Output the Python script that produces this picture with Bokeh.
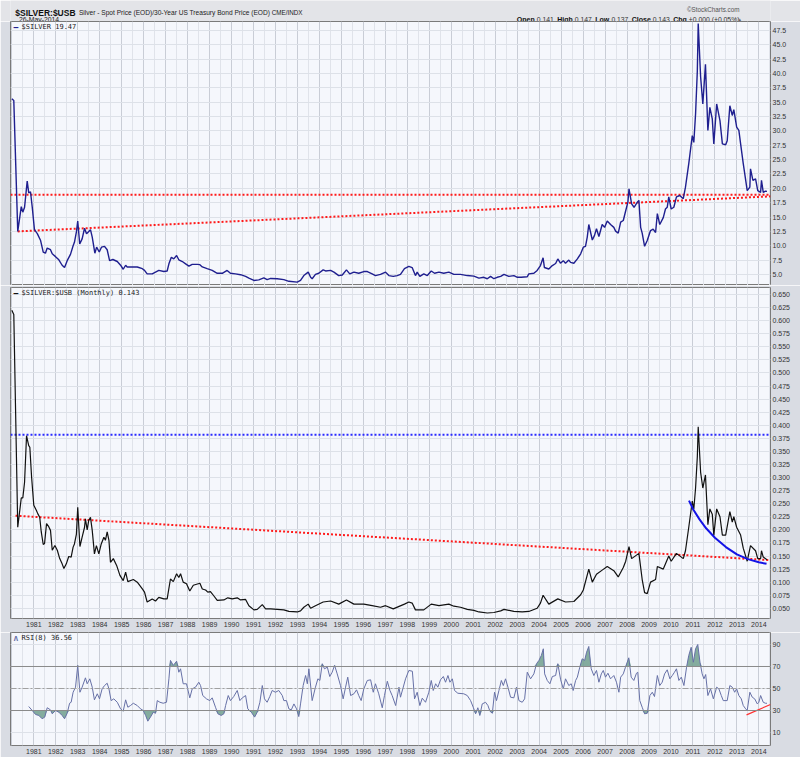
import numpy as np
from bokeh.plotting import figure
from bokeh.layouts import column
from bokeh.models import Range1d, FixedTicker, Label, Span, PrintfTickFormatter
from bokeh.core.properties import value
from bokeh.embed import file_html
from bokeh.resources import INLINE

# ---------------- data ----------------
years = list(range(1981, 2015))
grid_years = list(range(1980, 2015))
half_years = [y + 0.5 for y in range(1980, 2015)]

silver_t = [1980.00, 1980.09, 1980.27, 1980.43, 1980.50, 1980.58, 1980.70, 1980.77, 1980.85, 1980.93,
            1981.03, 1981.16, 1981.31, 1981.43, 1981.53, 1981.61, 1981.76, 1981.84, 1981.99, 1982.14,
            1982.29, 1982.40, 1982.52, 1982.67, 1982.79, 1982.85, 1982.94, 1983.00, 1983.09, 1983.20,
            1983.31, 1983.40, 1983.48, 1983.58, 1983.66, 1983.78, 1983.86, 1983.98, 1984.08, 1984.22,
            1984.34, 1984.45, 1984.60, 1984.80, 1984.95, 1985.07, 1985.18, 1985.25, 1985.48, 1985.71,
            1985.94, 1986.04, 1986.16, 1986.39, 1986.54, 1986.69, 1986.92, 1987.07, 1987.15, 1987.26,
            1987.37, 1987.50, 1987.60, 1987.76, 1987.91, 1988.06, 1988.21, 1988.44, 1988.56, 1988.67,
            1988.89, 1989.12, 1989.35, 1989.58, 1989.80, 1989.95, 1990.18, 1990.41, 1990.64, 1990.79,
            1991.02, 1991.24, 1991.47, 1991.62, 1991.78, 1992.08, 1992.38, 1992.61, 1992.99, 1993.14,
            1993.29, 1993.49, 1993.60, 1993.67, 1993.82, 1993.97, 1994.17, 1994.28, 1994.51, 1994.66,
            1994.88, 1995.04, 1995.23, 1995.38, 1995.57, 1995.79, 1996.02, 1996.18, 1996.40, 1996.55,
            1996.78, 1997.01, 1997.16, 1997.36, 1997.54, 1997.69, 1997.87, 1998.07, 1998.22, 1998.37,
            1998.45, 1998.57, 1998.75, 1998.91, 1999.09, 1999.24, 1999.44, 1999.66, 1999.89, 2000.12,
            2000.42, 2000.73, 2001.03, 2001.26, 2001.48, 2001.64, 2001.79, 2001.94, 2002.09, 2002.25,
            2002.40, 2002.62, 2002.85, 2003.01, 2003.18, 2003.46, 2003.53, 2003.76, 2003.91, 2004.06,
            2004.18, 2004.24, 2004.44, 2004.60, 2004.75, 2004.85, 2004.97, 2005.10, 2005.20, 2005.35,
            2005.43, 2005.58, 2005.74, 2005.89, 2006.01, 2006.11, 2006.19, 2006.26, 2006.42, 2006.52,
            2006.61, 2006.72, 2006.87, 2006.98, 2007.10, 2007.25, 2007.40, 2007.48, 2007.60, 2007.71,
            2007.83, 2007.94, 2008.04, 2008.09, 2008.21, 2008.32, 2008.47, 2008.54, 2008.62, 2008.69,
            2008.80, 2008.92, 2009.07, 2009.19, 2009.30, 2009.38, 2009.49, 2009.65, 2009.75, 2009.83,
            2009.90, 2010.01, 2010.13, 2010.25, 2010.40, 2010.56, 2010.66, 2010.81, 2010.97, 2011.04,
            2011.12, 2011.20, 2011.24, 2011.35, 2011.45, 2011.57, 2011.68, 2011.77, 2011.88, 2011.95,
            2012.08, 2012.23, 2012.34, 2012.49, 2012.56, 2012.68, 2012.79, 2012.86, 2012.99, 2013.09,
            2013.17, 2013.29, 2013.47, 2013.59, 2013.62, 2013.73, 2013.85, 2013.95, 2014.08, 2014.12,
            2014.20, 2014.30, 2014.37]
silver_v = [35.6, 35.3, 12.5, 16.8, 15.85, 16.7, 21.25, 19.2, 19.4, 16.7,
            12.8, 12.1, 10.9, 8.9, 8.7, 9.6, 9.3, 8.6, 8.1, 7.55,
            6.6, 6.2, 7.4, 8.5, 10.0, 10.6, 12.4, 14.3, 10.3, 11.2,
            13.05, 12.1, 12.4, 12.8, 11.5, 8.7, 9.75, 8.9, 9.75, 9.9,
            9.3, 7.4, 7.6, 7.25, 6.6, 5.9, 6.6, 6.3, 6.3, 6.3,
            6.0, 5.7, 5.1, 5.1, 5.4, 5.7, 5.5, 5.6, 6.85, 8.0,
            7.7, 8.3, 7.55, 7.25, 6.85, 6.45, 6.75, 6.75, 6.7, 6.3,
            6.0, 5.7, 5.2, 5.2, 5.7, 5.2, 5.1, 4.95, 4.65, 4.35,
            3.95, 4.05, 4.4, 4.1, 4.3, 4.25, 4.1, 3.8, 3.65, 3.95,
            4.8, 5.4, 4.5, 4.25, 5.0, 5.2, 5.8, 5.6, 5.7, 5.4,
            4.8, 4.9, 5.8, 5.1, 5.4, 5.2, 5.5, 5.5, 5.1, 4.8,
            5.0, 5.4, 4.8, 4.65, 4.8, 5.0, 6.0, 6.4, 6.2, 4.8,
            5.4, 4.65, 5.1, 4.8, 5.6, 5.2, 5.4, 5.2, 5.4, 5.0,
            5.0, 4.8, 4.7, 4.35, 4.5, 4.25, 4.65, 4.25, 4.5, 4.65,
            5.0, 4.65, 4.8, 4.5, 4.5, 4.6, 5.1, 5.2, 5.7, 6.55,
            7.9, 6.2, 5.95, 6.55, 6.9, 7.7, 6.95, 7.4, 6.95, 7.5,
            7.1, 6.95, 7.7, 8.6, 9.75, 9.9, 11.5, 13.7, 11.0, 11.8,
            12.95, 11.6, 13.7, 13.2, 14.3, 13.7, 13.2, 12.55, 12.2, 14.1,
            14.4, 16.1, 17.6, 19.9, 17.3, 16.7, 17.6, 17.9, 13.2, 12.2,
            9.9, 10.9, 12.65, 12.9, 12.3, 15.6, 13.7, 14.9, 16.4, 16.7,
            18.5, 16.4, 16.7, 18.5, 18.75, 18.2, 20.2, 24.3, 29.2, 28.0,
            33.0, 40.5, 48.7, 39.4, 34.7, 41.6, 30.1, 34.1, 32.1, 27.75,
            34.7, 31.8, 27.75, 27.6, 28.3, 34.4, 32.7, 33.7, 30.65, 30.1,
            27.75, 24.3, 19.6, 20.2, 23.4, 21.4, 21.65, 19.6, 19.3, 21.4,
            19.3, 19.5, 19.47]

ratio_t = [1980.00, 1980.09, 1980.27, 1980.43, 1980.50, 1980.58, 1980.67, 1980.70, 1980.77, 1980.82,
           1980.90, 1981.00, 1981.12, 1981.18, 1981.27, 1981.34, 1981.43, 1981.49, 1981.58, 1981.68,
           1981.76, 1981.84, 1981.96, 1982.07, 1982.18, 1982.29, 1982.37, 1982.48, 1982.59, 1982.70,
           1982.79, 1982.85, 1982.94, 1983.00, 1983.10, 1983.20, 1983.31, 1983.35, 1983.43, 1983.50,
           1983.58, 1983.66, 1983.76, 1983.85, 1983.96, 1984.07, 1984.19, 1984.26, 1984.34, 1984.42,
           1984.49, 1984.62, 1984.77, 1984.92, 1985.07, 1985.18, 1985.28, 1985.53, 1985.71, 1985.94,
           1986.04, 1986.16, 1986.39, 1986.54, 1986.69, 1986.92, 1987.07, 1987.22, 1987.35, 1987.50,
           1987.60, 1987.68, 1987.80, 1987.95, 1988.10, 1988.26, 1988.56, 1988.67, 1988.82, 1988.92,
           1989.04, 1989.19, 1989.35, 1989.65, 1989.83, 1990.03, 1990.26, 1990.41, 1990.64, 1990.79,
           1991.02, 1991.17, 1991.40, 1991.55, 1991.78, 1992.08, 1992.38, 1992.61, 1992.99, 1993.14,
           1993.29, 1993.49, 1993.60, 1993.82, 1994.17, 1994.51, 1994.88, 1995.23, 1995.57, 1996.02,
           1996.40, 1996.78, 1997.01, 1997.36, 1997.87, 1998.07, 1998.22, 1998.37, 1998.75, 1999.09,
           1999.44, 1999.89, 2000.12, 2000.42, 2000.73, 2001.03, 2001.26, 2001.64, 2001.94, 2002.25,
           2002.40, 2002.85, 2003.23, 2003.53, 2003.91, 2004.06, 2004.18, 2004.44, 2004.85, 2005.20,
           2005.58, 2005.89, 2006.01, 2006.26, 2006.42, 2006.61, 2006.87, 2007.10, 2007.40, 2007.60,
           2007.83, 2007.94, 2008.09, 2008.21, 2008.54, 2008.69, 2008.80, 2008.92, 2009.07, 2009.30,
           2009.38, 2009.65, 2009.90, 2010.01, 2010.25, 2010.56, 2010.66, 2010.81, 2010.97, 2011.04,
           2011.12, 2011.20, 2011.24, 2011.35, 2011.45, 2011.57, 2011.68, 2011.77, 2011.88, 2011.95,
           2012.08, 2012.23, 2012.34, 2012.49, 2012.68, 2012.79, 2012.86, 2012.99, 2013.17, 2013.29,
           2013.47, 2013.62, 2013.85, 2013.95, 2014.08, 2014.12, 2014.20, 2014.37]
ratio_v = [0.620, 0.612, 0.205, 0.261, 0.261, 0.291, 0.380, 0.374, 0.361, 0.358,
           0.301, 0.247, 0.237, 0.231, 0.224, 0.196, 0.172, 0.174, 0.212, 0.206,
           0.199, 0.161, 0.170, 0.161, 0.145, 0.135, 0.126, 0.135, 0.149, 0.148,
           0.167, 0.173, 0.192, 0.243, 0.168, 0.186, 0.205, 0.221, 0.200, 0.218,
           0.224, 0.199, 0.154, 0.170, 0.154, 0.173, 0.186, 0.180, 0.196, 0.180,
           0.138, 0.145, 0.132, 0.113, 0.103, 0.119, 0.101, 0.105, 0.100, 0.087,
           0.081, 0.062, 0.068, 0.064, 0.071, 0.068, 0.068, 0.106, 0.101, 0.116,
           0.109, 0.116, 0.100, 0.097, 0.083, 0.094, 0.098, 0.087, 0.085, 0.081,
           0.082, 0.074, 0.065, 0.066, 0.070, 0.068, 0.070, 0.066, 0.067, 0.055,
           0.047, 0.048, 0.057, 0.049, 0.049, 0.048, 0.047, 0.044, 0.043, 0.045,
           0.052, 0.058, 0.050, 0.055, 0.062, 0.064, 0.058, 0.066, 0.058, 0.058,
           0.055, 0.052, 0.055, 0.049, 0.058, 0.062, 0.060, 0.047, 0.047, 0.058,
           0.055, 0.058, 0.054, 0.052, 0.048, 0.046, 0.043, 0.041, 0.042, 0.045,
           0.048, 0.044, 0.043, 0.044, 0.050, 0.060, 0.075, 0.058, 0.068, 0.062,
           0.063, 0.076, 0.085, 0.125, 0.100, 0.115, 0.123, 0.130, 0.122, 0.110,
           0.128, 0.140, 0.168, 0.145, 0.155, 0.105, 0.080, 0.078, 0.100, 0.105,
           0.130, 0.125, 0.150, 0.140, 0.155, 0.145, 0.160, 0.205, 0.255, 0.240,
           0.280, 0.340, 0.397, 0.310, 0.280, 0.305, 0.210, 0.240, 0.230, 0.190,
           0.240, 0.225, 0.190, 0.190, 0.235, 0.215, 0.225, 0.205, 0.190, 0.165,
           0.140, 0.170, 0.160, 0.145, 0.145, 0.160, 0.148, 0.143]

rsi_t = [1980.77, 1980.93, 1981.08, 1981.23, 1981.38, 1981.50, 1981.61, 1981.76, 1981.84, 1981.99,
         1982.14, 1982.29, 1982.40, 1982.52, 1982.63, 1982.70, 1982.79, 1982.90, 1983.00, 1983.10,
         1983.20, 1983.35, 1983.43, 1983.55, 1983.66, 1983.76, 1983.89, 1983.99, 1984.11, 1984.22,
         1984.34, 1984.42, 1984.52, 1984.64, 1984.80, 1984.95, 1985.07, 1985.18, 1985.28, 1985.40,
         1985.53, 1985.71, 1985.86, 1985.98, 1986.09, 1986.19, 1986.31, 1986.44, 1986.54, 1986.62,
         1986.74, 1986.89, 1987.04, 1987.15, 1987.22, 1987.35, 1987.50, 1987.60, 1987.68, 1987.80,
         1987.95, 1988.10, 1988.21, 1988.36, 1988.51, 1988.59, 1988.69, 1988.86, 1989.01, 1989.12,
         1989.27, 1989.38, 1989.53, 1989.65, 1989.73, 1989.85, 1989.95, 1990.10, 1990.26, 1990.38,
         1990.49, 1990.64, 1990.74, 1990.90, 1991.05, 1991.17, 1991.29, 1991.40, 1991.50, 1991.62,
         1991.74, 1991.85, 1992.00, 1992.15, 1992.31, 1992.38, 1992.50, 1992.61, 1992.72, 1992.84,
         1992.96, 1993.06, 1993.14, 1993.26, 1993.37, 1993.45, 1993.52, 1993.67, 1993.82, 1993.93,
         1994.02, 1994.13, 1994.23, 1994.36, 1994.47, 1994.58, 1994.69, 1994.81, 1994.96, 1995.08,
         1995.19, 1995.29, 1995.42, 1995.57, 1995.69, 1995.79, 1995.90, 1996.02, 1996.18, 1996.33,
         1996.45, 1996.55, 1996.70, 1996.86, 1996.96, 1997.09, 1997.21, 1997.31, 1997.47, 1997.62,
         1997.69, 1997.92, 1998.07, 1998.23, 1998.33, 1998.45, 1998.57, 1998.68, 1998.83, 1998.98,
         1999.09, 1999.18, 1999.29, 1999.39, 1999.51, 1999.64, 1999.74, 1999.85, 1999.94, 2000.05,
         2000.15, 2000.30, 2000.57, 2000.73, 2000.88, 2001.00, 2001.11, 2001.21, 2001.30, 2001.41,
         2001.56, 2001.67, 2001.76, 2001.87, 2001.97, 2002.06, 2002.17, 2002.28, 2002.37, 2002.47,
         2002.58, 2002.70, 2002.85, 2002.97, 2003.08, 2003.23, 2003.34, 2003.46, 2003.61, 2003.76,
         2003.88, 2003.99, 2004.10, 2004.19, 2004.25, 2004.37, 2004.49, 2004.60, 2004.75, 2004.85,
         2004.98, 2005.10, 2005.20, 2005.35, 2005.46, 2005.55, 2005.66, 2005.74, 2005.85, 2005.96,
         2006.07, 2006.16, 2006.26, 2006.37, 2006.49, 2006.61, 2006.72, 2006.83, 2006.92, 2007.02,
         2007.13, 2007.25, 2007.40, 2007.52, 2007.63, 2007.71, 2007.83, 2007.93, 2008.08, 2008.19,
         2008.31, 2008.43, 2008.49, 2008.58, 2008.69, 2008.80, 2008.92, 2009.04, 2009.15, 2009.25,
         2009.38, 2009.49, 2009.60, 2009.71, 2009.83, 2009.95, 2010.06, 2010.16, 2010.25, 2010.36,
         2010.47, 2010.59, 2010.71, 2010.81, 2010.92, 2011.02, 2011.12, 2011.22, 2011.32, 2011.42,
         2011.50, 2011.58, 2011.68, 2011.80, 2011.93, 2012.08, 2012.18, 2012.29, 2012.38, 2012.56,
         2012.68, 2012.79, 2012.90, 2012.99, 2013.09, 2013.20, 2013.29, 2013.40, 2013.47, 2013.59,
         2013.70, 2013.81, 2013.93, 2014.00, 2014.08, 2014.20, 2014.30, 2014.37]
rsi_v = [33.6, 30, 26.4, 25.5, 22.5, 24, 32.5, 30.6, 27, 30,
         28.5, 25.5, 22.5, 27.5, 36.6, 37.5, 46.6, 51.2, 71, 46.6,
         51.2, 59.7, 54.3, 58.8, 51.2, 39.7, 45.2, 40.6, 49.7, 52.7,
         54.8, 49.7, 39, 40.6, 37.5, 31.5, 29.4, 39.7, 33, 34.5,
         36.6, 34.5, 31.5, 30, 25.5, 20.3, 24, 28.5, 27.5, 39,
         37.5, 36.6, 37.5, 58.8, 75.5, 71, 74.8, 64.8, 67.9, 54.3,
         54.3, 41.5, 49.7, 51.2, 55.7, 52.7, 43.6, 40.6, 39, 41.5,
         33, 27, 25.5, 27, 34.5, 43.6, 39, 42.7, 48.2, 39,
         41.5, 43.6, 31.5, 28.5, 24, 28.5, 37.5, 52.7, 40.6, 37.5,
         42.7, 48.2, 46.6, 48.2, 43.6, 39, 39, 31.5, 30.6, 36,
         31.5, 24.5, 36, 52.7, 61.8, 54.3, 67.9, 39, 51.2, 58.8,
         57.3, 72.5, 67.9, 69.4, 60.9, 64.8, 71, 63.3, 52.7, 40.6,
         51.2, 60.3, 43.6, 45.2, 48.8, 43.6, 39, 49.7, 57.3, 57.9,
         46.6, 54.3, 45.2, 32.5, 43.6, 56.6, 48.2, 43.6, 34.5, 51.2,
         42.1, 58.8, 66.4, 65.7, 40.6, 46.6, 34.5, 41.2, 37.5, 46.6,
         57.3, 48.2, 54.3, 51.2, 57.9, 60.9, 55.7, 61.8, 55.7, 58.8,
         48.2, 45.7, 45.2, 43.6, 39, 33, 27, 32.5, 25.5, 36,
         37.5, 34.5, 29.4, 27.5, 46.6, 39, 48.2, 57.3, 52.7, 58.8,
         51.2, 42.1, 41.5, 51.2, 39, 37.5, 40.6, 64.8, 58.8, 63.3,
         72.5, 75.5, 80, 86.1, 63.3, 57.3, 54.3, 60.9, 61.8, 72.5,
         57.9, 49.7, 58.8, 52.7, 54.3, 48.2, 57.3, 60.3, 69.4, 77,
         75.5, 83, 88.2, 67.9, 61.8, 66.4, 55.7, 63.3, 66.4, 60.3,
         63.9, 58.8, 61.8, 55.7, 46.6, 60.3, 63.3, 69.4, 77.9, 60.3,
         57.3, 63.9, 64.8, 39, 33, 27, 27.5, 43.6, 46.6, 42.7,
         61.8, 52.7, 55.7, 63.3, 67, 58.8, 61.8, 64.8, 67.9, 57.3,
         60.3, 52.7, 69.4, 80, 87.5, 73.9, 86.1, 90, 73.9, 63.3,
         58.8, 62.7, 43.6, 49.7, 40.6, 51.2, 49.7, 43.6, 39, 39,
         52.7, 51.2, 46.6, 49.7, 43.6, 40.6, 34.5, 31.5, 30, 46.6,
         42.1, 40.6, 36, 37.5, 43.6, 37.5, 36.6, 36.56]

silver_ticks = [5.0, 7.5, 10.0, 12.5, 15.0, 17.5, 20.0, 22.5, 25.0, 27.5, 30.0, 32.5,
                35.0, 37.5, 40.0, 42.5, 45.0, 47.5]
ratio_ticks = [0.050, 0.075, 0.100, 0.125, 0.150, 0.175, 0.200, 0.225, 0.250, 0.275, 0.300,
               0.325, 0.350, 0.375, 0.400, 0.425, 0.450, 0.475, 0.500, 0.525, 0.550, 0.575,
               0.600, 0.625, 0.650]
rsi_ticks = [10, 30, 50, 70, 90]

# trend lines drawn on the original chart
silver_hline_t = [1979.94, 2014.53]
silver_hline_v = [18.9, 18.9]
silver_trend_t = [1980.27, 2014.53]
silver_trend_v = [12.5, 18.6]
ratio_hline_t = [1979.94, 2014.53]
ratio_hline_v = [0.382, 0.382]
ratio_trend_t = [1980.17, 2014.53]
ratio_trend_v = [0.227, 0.142]
ratio_curve_t = [2010.82, 2011.0, 2011.3, 2011.6, 2012.0, 2012.5, 2013.0, 2013.5, 2014.0, 2014.35]
ratio_curve_v = [0.256, 0.240, 0.220, 0.203, 0.185, 0.167, 0.153, 0.144, 0.138, 0.135]
rsi_trend_t = [2013.44, 2014.53]
rsi_trend_v = [26.0, 35.5]

# header texts
title_main = "$SILVER:$USB"
title_desc = "Silver - Spot Price (EOD)/30-Year US Treasury Bond Price (EOD)"
title_exch = "CME/INDX"
title_date = "26-May-2014"
copyright_txt = "\u00a9StockCharts.com"
ohlc_keys = ["Open", "High", "Low", "Close", "Chg"]
ohlc_vals = ["0.141", "0.147", "0.137", "0.143", "+0.000 (+0.05%)"]

# ---------------- styling ----------------
W = 800
XR = Range1d(1979.94, 2014.53)
PLOT_BG = "#f5f7fc"
BORDER_BG = "#d9dce3"
GRID_MAJ = "#c9cdd6"
GRID_MIN = "#e0e3ea"
GRID_Y = "#dde1e8"
FONT = "Liberation Sans"
MONO = "DejaVu Sans Mono"


def base_fig(height, yr, yticks, fmt, show_x, top=0, bottom=0):
    p = figure(width=W, height=height, x_range=XR, y_range=Range1d(*yr),
               output_backend="svg", toolbar_location=None,
               x_axis_location="below" if show_x else None, y_axis_location="right",
               min_border_left=10, min_border_right=30, min_border_top=top,
               min_border_bottom=bottom)
    p.background_fill_color = PLOT_BG
    p.border_fill_color = BORDER_BG
    p.outline_line_color = "#7a7a7a"
    p.outline_line_width = 1
    xt = FixedTicker(ticks=grid_years, minor_ticks=half_years)
    p.xgrid.ticker = xt
    p.xgrid.grid_line_color = GRID_MAJ
    p.xgrid.minor_grid_line_color = GRID_MIN
    p.ygrid.ticker = FixedTicker(ticks=yticks)
    p.ygrid.grid_line_color = GRID_Y
    ya = p.yaxis[0]
    ya.ticker = FixedTicker(ticks=yticks)
    ya.formatter = PrintfTickFormatter(format=fmt)
    ya.axis_line_color = None
    ya.major_tick_line_color = None
    ya.minor_tick_line_color = None
    ya.major_tick_out = 0
    ya.major_label_standoff = 2
    ya.major_label_text_font = FONT
    ya.major_label_text_font_size = "7px"
    ya.major_label_text_color = "#333333"
    if show_x:
        xa = p.xaxis[0]
        xa.ticker = FixedTicker(ticks=years)
        xa.axis_line_color = None
        xa.major_tick_line_color = None
        xa.minor_tick_line_color = None
        xa.major_tick_out = 0
        xa.major_label_standoff = 3
        xa.major_label_text_font = FONT
        xa.major_label_text_font_size = "7px"
        xa.major_label_text_color = "#333333"
    return p


def legend(p, yr, swatch, swatch_color, text):
    p.add_layout(Label(x=XR.start, y=yr[1], x_offset=3, y_offset=-1, text=swatch,
                       text_color=swatch_color, text_font=MONO, text_font_size="8px",
                       text_font_style="bold", text_baseline="top"))
    p.add_layout(Label(x=XR.start, y=yr[1], x_offset=11, y_offset=-1, text=text,
                       text_color="#222222", text_font=MONO, text_font_size="7px",
                       text_baseline="top"))


# ---------------- header ----------------
hdr = figure(width=W, height=21, x_range=Range1d(0, W), y_range=Range1d(21, 0),
             output_backend="svg", toolbar_location=None,
             x_axis_location=None, y_axis_location=None, min_border=0)
hdr.background_fill_color = "#e3e4e8"
hdr.border_fill_color = "#e3e4e8"
hdr.outline_line_color = None
hdr.xgrid.visible = False
hdr.ygrid.visible = False
hdr.text(x=[5], y=[12], text=[title_main], text_font=value(FONT),
         text_font_size="8.5px", text_font_style="bold", text_baseline="alphabetic", text_color="#111111")
hdr.text(x=[72], y=[12], text=[title_desc], text_font=value(FONT),
         text_font_size="6.6px", text_baseline="alphabetic", text_color="#222222")
hdr.text(x=[275], y=[12], text=[title_exch], text_font=value(FONT),
         text_font_size="6.3px", text_baseline="alphabetic", text_color="#222222")
hdr.text(x=[9], y=[18.5], text=[title_date], text_font=value(FONT),
         text_font_size="6.8px", text_baseline="alphabetic", text_color="#222222")
hdr.text(x=[712], y=[9], text=[copyright_txt], text_font=value(FONT),
         text_font_size="6.3px", text_baseline="alphabetic", text_color="#555555")
key_x = [533, 575.5, 615.5, 654, 697.5]
val_x = [554, 594, 632.5, 676, 714]
hdr.text(x=key_x, y=[18.5] * 5, text=ohlc_keys, text_font=value(FONT),
         text_font_size="7px", text_font_style="bold", text_baseline="alphabetic", text_color="#111111")
hdr.text(x=val_x, y=[18.5] * 5, text=ohlc_vals, text_font=value(FONT),
         text_font_size="6.8px", text_baseline="alphabetic", text_color="#333333")
hdr.text(x=[766], y=[18.5], text=["\u25b4"], text_font=value(FONT),
         text_font_size="7px", text_baseline="alphabetic", text_color="#666666")

# ---------------- silver panel ----------------
yr_top = (3.07, 49.07)
p1 = base_fig(264, yr_top, silver_ticks, "%.1f", False)
p1.line(silver_hline_t, silver_hline_v, line_color="#ff1a1a", line_width=2, line_dash="2 2")
p1.line(silver_trend_t, silver_trend_v, line_color="#ff1a1a", line_width=2, line_dash="2 2")
p1.line(silver_t, silver_v, line_color="#1f1f8f", line_width=1.4)
legend(p1, yr_top, "\u2014", "#1f1f8f", "$SILVER 19.47")

# ---------------- ratio panel ----------------
yr_mid = (0.0305, 0.6634)
p2 = base_fig(347, yr_mid, ratio_ticks, "%.3f", True, top=2, bottom=14)
p2.line(ratio_hline_t, ratio_hline_v, line_color="#2b2bff", line_width=2, line_dash="2 2")
p2.line(ratio_trend_t, ratio_trend_v, line_color="#ff1a1a", line_width=2, line_dash="2 2")
p2.line(ratio_t, ratio_v, line_color="#111111", line_width=1.2)
p2.line(ratio_curve_t, ratio_curve_v, line_color="#1414e6", line_width=2)
legend(p2, yr_mid, "\u2014", "#111111", "$SILVER:$USB (Monthly) 0.143")

# ---------------- RSI panel ----------------
yr_rsi = (-1.8, 100.9)
p3 = base_fig(125, yr_rsi, rsi_ticks, "%d", True, top=0, bottom=12)
rsi_arr = np.array(rsi_v)
p3.varea(x=rsi_t, y1=np.minimum(rsi_arr, 30), y2=[30] * len(rsi_t), fill_color="#78a393", fill_alpha=0.9)
p3.varea(x=rsi_t, y1=[70] * len(rsi_t), y2=np.maximum(rsi_arr, 70), fill_color="#78a393", fill_alpha=0.9)
for lvl, dash, col in [(70, "solid", "#8a8a8a"), (30, "solid", "#8a8a8a"), (50, "6 2 2 2", "#a0a0a0")]:
    p3.add_layout(Span(location=lvl, dimension="width", line_color=col, line_width=1, line_dash=dash))
p3.line(rsi_t, rsi_v, line_color="#6670a6", line_width=1)
p3.line(rsi_trend_t, rsi_trend_v, line_color="#ff3030", line_width=1.2)
legend(p3, yr_rsi, "\u028c", "#6670a6", "RSI(8) 36.56")

layout = column(hdr, p1, p2, p3, spacing=0)
open("out.html", "w").write(file_html(layout, INLINE))
